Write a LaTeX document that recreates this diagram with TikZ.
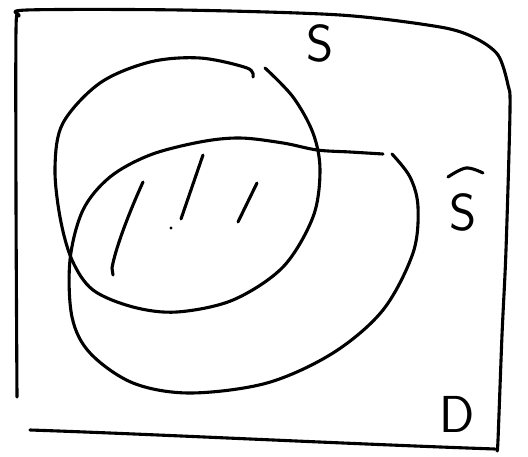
\documentclass[tikz,border=0pt]{standalone}
\begin{document}
\begin{tikzpicture}[x=1pt,y=-1pt,
  ink/.style={line width=3.1pt,line cap=round,line join=round,black},
  lbl/.style={font=\fontsize{52}{56}\selectfont\sffamily,inner sep=0pt}]
\useasboundingbox (0,0) rectangle (528,457);
% frame
\draw[ink] plot[smooth,tension=0.5] coordinates {(17,397) (16,200) (16,30) (19,16) (27,10) (180,10) (340,15) (440,27) (475,38) (498,55) (508,85) (510,110) (506,250) (502,335) (498,440) (497,450)};
\draw[ink] (30,430) .. controls (150,434) and (350,444) .. (495,449);
% set S
\draw[ink] plot[smooth,tension=0.55] coordinates {(253,77) (247,68) (200,58) (150,62) (100,83) (63,123) (55,167) (60,217) (72,260) (93,290) (133,307) (177,312) (233,300) (283,267) (313,217) (320,170) (313,133) (293,97) (265,68)};
% set S hat
\draw[ink] plot[smooth,tension=0.55] coordinates {(383,154) (350,152) (317,150) (283,143) (240,138) (200,142) (150,155) (110,177) (83,210) (70,260) (72,317) (90,353) (133,383) (190,393) (267,383) (333,353) (383,310) (413,253) (418,207) (410,177) (392,154)};
% hatching
\draw[ink] (143,182) .. controls (128,215) and (115,250) .. (112,268) -- (113,275);
\draw[ink] (203,155) -- (181,219);
\draw[ink] (257,183) -- (238,222);
\fill (171,228) circle (1.7pt);
% labels
\node[lbl] (s) at (320,43) {S};
\node[lbl] (shat) at (463,212) {S};
\draw[ink] plot[smooth,tension=0.6] coordinates {(448,177) (466,168) (483,173)};
\node[lbl] (d) at (457,414) {D};
\end{tikzpicture}
\end{document}
